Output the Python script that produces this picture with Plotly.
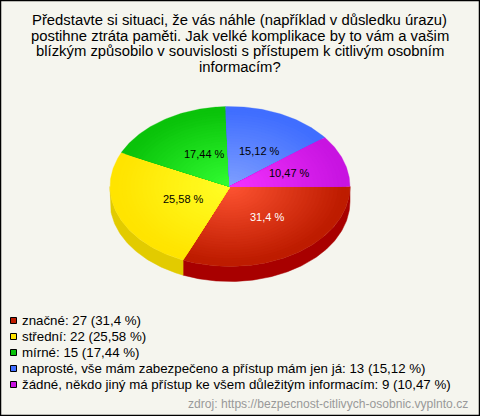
import math
import plotly.graph_objects as go

title_lines = [
    "Představte si situaci, že vás náhle (například v důsledku úrazu)",
    "postihne ztráta paměti. Jak velké komplikace by to vám a vašim",
    "blízkým způsobilo v souvislosti s přístupem k citlivým osobním",
    "informacím?",
]
categories = [
    "značné",
    "střední",
    "mírné",
    "naprosté, vše mám zabezpečeno a přístup mám jen já",
    "žádné, někdo jiný má přístup ke všem důležitým informacím",
]
counts = [27, 22, 15, 13, 9]
percent_labels = ["31,4", "25,58", "17,44", "15,12", "10,47"]
inner_colors = [(255, 85, 51), (255, 255, 38), (51, 255, 51), (128, 160, 255), (245, 51, 255)]
outer_colors = [(190, 28, 0), (255, 228, 0), (10, 195, 10), (64, 110, 255), (200, 20, 225)]
side_colors = ["#a80000", "#e2cb00", None, None, None]
label_colors = ["#ffffff", "#000000", "#000000", "#000000", "#000000"]
source = "zdroj: https://bezpecnost-citlivych-osobnic.vyplnto.cz"

W, H = 480, 416
cx, cy, rx, ry, depth = 230, 186.5, 120, 80, 15
BG = "#f5f5ee"
total = sum(counts)
N_BANDS = 30

fig = go.Figure()


def arc(a0, a1, k=1.0, dy=0.0):
    n = max(3, int(abs(a1 - a0) * 60))
    return [
        (cx + k * rx * math.cos(a0 + (a1 - a0) * i / n), cy + dy + k * ry * math.sin(a0 + (a1 - a0) * i / n))
        for i in range(n + 1)
    ]


# side wall, lower half only
cum = 0
for v, col in zip(counts, side_colors):
    a0 = cum / total * 2 * math.pi
    cum += v
    a1 = cum / total * 2 * math.pi
    if col:
        a1c = min(a1, math.pi)
        top = arc(a0, a1c)
        bot = arc(a0, a1c, dy=depth)
        pts = top + bot[::-1] + top[:1]
        fig.add_trace(go.Scatter(x=[p[0] for p in pts], y=[p[1] for p in pts], mode="lines",
                                 fill="toself", fillcolor=col, line=dict(color=col, width=0.5),
                                 hoverinfo="skip", showlegend=False))

# top face: nested wedges give the radial gradient
cum = 0
for v, c_in, c_out in zip(counts, inner_colors, outer_colors):
    a0 = cum / total * 2 * math.pi
    cum += v
    a1 = cum / total * 2 * math.pi
    for b in range(N_BANDS):
        t = 1 - b / N_BANDS
        rgb = tuple(round(c_in[i] + (c_out[i] - c_in[i]) * min(1, t * 1.05)) for i in range(3))
        col = f"rgb{rgb}"
        pts = [(cx, cy)] + arc(a0, a1, k=t) + [(cx, cy)]
        fig.add_trace(go.Scatter(x=[p[0] for p in pts], y=[p[1] for p in pts], mode="lines",
                                 fill="toself", fillcolor=col, line=dict(color=col, width=0.3),
                                 hoverinfo="skip", showlegend=False))

annotations = []


def text(x, y, s, size, color="#000000", anchor="left"):
    annotations.append(dict(x=x, y=y, xref="x", yref="y", text=s, showarrow=False, xanchor=anchor,
                            yanchor="middle", font=dict(family="Liberation Sans, Arial, sans-serif",
                                                        size=size, color=color)))


for i, line in enumerate(title_lines):
    text(239.5, 20 + i * 15.5, line, 14.85, "#000000", "center")

# slice labels
cum = 0
for v, p, c in zip(counts, percent_labels, label_colors):
    mid = (cum + v / 2) / total * 2 * math.pi
    cum += v
    text(cx + 6 + 0.47 * rx * math.cos(mid), cy - 1 + 0.47 * ry * math.sin(mid), f"{p} %", 11, c, "center")

# legend
for i, (name, v, p, c) in enumerate(zip(categories, counts, percent_labels, outer_colors)):
    y = 320.5 + i * 15.9
    fig.add_trace(go.Scatter(x=[13.5], y=[round(y) + 0.5], mode="markers", hoverinfo="skip", showlegend=False,
                             marker=dict(symbol="square", size=6, color=f"rgb{c}",
                                         line=dict(color="#000000", width=1))))
    text(20, y, f"{name}: {v} ({p} %)", 13.3)

text(470, 404, source, 12.1, "#999999", "right")

fig.update_layout(
    width=W, height=H, margin=dict(l=0, r=0, t=0, b=0),
    paper_bgcolor=BG, plot_bgcolor=BG, showlegend=False, annotations=annotations,
    xaxis=dict(range=[0, W], visible=False, fixedrange=True),
    yaxis=dict(range=[H, 0], visible=False, fixedrange=True),
    shapes=[dict(type="rect", xref="x", yref="y", x0=0.5, y0=0.5, x1=W - 0.5, y1=H - 0.5,
                 line=dict(color="#000000", width=1.5), fillcolor="rgba(0,0,0,0)")],
)
fig.write_html("out.html", config=dict(displayModeBar=False),
               default_width=f"{W}px", default_height=f"{H}px",
               post_script="document.body.style.margin='0';")
